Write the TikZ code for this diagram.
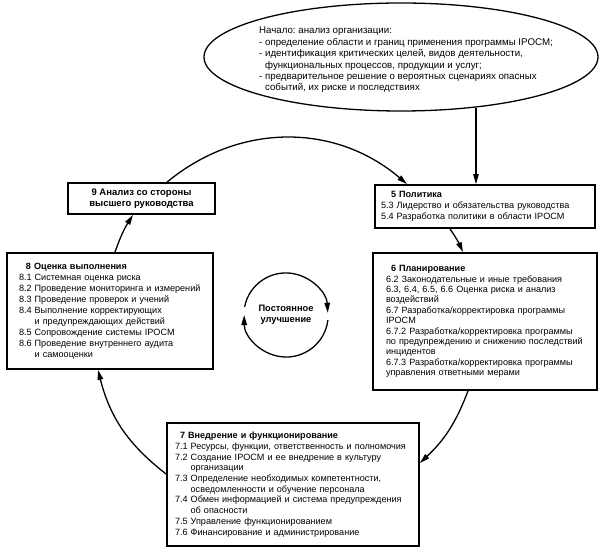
\documentclass[tikz,border=0pt]{standalone}
\usepackage{fontspec}
\setmainfont{Liberation Sans}
\usetikzlibrary{arrows.meta,shapes.geometric,calc}
\frenchspacing
\newcommand{\indnt}{\hphantom{8.8 }}
\newcommand{\txtsize}{\fontsize{9.1}{11}\selectfont}

\begin{document}
\begin{tikzpicture}[x=1pt,y=1pt,
          blk/.style={draw,line width=1.8pt,inner xsep=2pt,inner ysep=0pt,align=left,font=\txtsize,
                      execute at begin node={\leftskip=#1}},
          blk/.default=6pt,
          head/.style={draw,line width=1.8pt,inner sep=0pt,align=center,font=\fontsize{9.5}{11}\selectfont\bfseries},
          startell/.style={ellipse,draw,line width=1.3pt,minimum width=394pt,minimum height=108pt,inner sep=0pt},
          loopc/.style={circle,minimum size=84pt,inner sep=0pt,align=center,font=\fontsize{9.3}{11}\selectfont\bfseries},
          ar/.style={-{Triangle[length=10pt,width=5.5pt]},line width=1.3pt}
        ]
        \useasboundingbox (0,0) rectangle (607,554);
        % start of the cycle
        \node[startell] (start) at (401,497) {};
        \node[anchor=north west,inner sep=0pt,align=left,font=\fontsize{9.7}{11.4}\selectfont] (starttext) at (259,527)
          {Начало: анализ организации:\\
           - определение области и границ применения программы IPOCM;\\
           - идентификация критических целей, видов деятельности,\\
           \hphantom{- }функциональных процессов, продукции и услуг;\\
           - предварительное решение о вероятных сценариях опасных\\
           \hphantom{- }событий, их риске и последствиях};
        % the five stages
        \node[blk=4pt,text width=216pt,minimum height=43pt] (b5) at (485,347.5)
          {\hspace*{10pt}\textbf{5 Политика}\\
           5.3 Лидерство и обязательства руководства\\
           5.4 Разработка политики в области IPOCM};
        \node[blk=11pt,text width=220pt,minimum height=137pt,font=\fontsize{9.1}{10.4}\selectfont] (b6) at (485,232.5)
          {\hspace*{5pt}\textbf{6 Планирование}\\
           6.2 Законодательные и иные требования\\
           6.3, 6.4, 6.5, 6.6 Оценка риска и анализ\\
           воздействий\\
           6.7 Разработка/корректировка программы\\
           IPOCM\\
           6.7.2 Разработка/корректировка программы\\
           по предупреждению и снижению последствий\\
           инцидентов\\
           6.7.3 Разработка/корректировка программы\\
           управления ответными мерами};
        \node[blk=6pt,text width=248pt,minimum height=123pt,font=\fontsize{9.1}{10.7}\selectfont] (b7) at (293,69.5)
          {\hspace*{5pt}\textbf{7 Внедрение и функционирование}\\
           7.1 Ресурсы, функции, ответственность и полномочия\\
           7.2 Создание IPOCM и ее внедрение в культуру\\
           \indnt организации\\
           7.3 Определение необходимых компетентности,\\
           \indnt осведомленности и обучение персонала\\
           7.4 Обмен информацией и система предупреждения\\
           \indnt об опасности\\
           7.5 Управление функционированием\\
           7.6 Финансирование и администрирование};
        \node[blk=10pt,text width=202pt,minimum height=116pt] (b8) at (110,243)
          {\hspace*{7pt}\textbf{8 Оценка выполнения}\\
           8.1 Системная оценка риска\\
           8.2 Проведение мониторинга и измерений\\
           8.3 Проведение проверок и учений\\
           8.4 Выполнение корректирующих\\
           \indnt и предупреждающих действий\\
           8.5 Сопровождение системы IPOCM\\
           8.6 Проведение внутреннего аудита\\
           \indnt и самооценки};
        \node[head,minimum width=147pt,minimum height=31pt] (b9) at (141.5,355.5)
          {9 Анализ со стороны\\высшего руководства};
        \node[loopc] (loop) at (286,239) {Постоянное\\улучшение};
        % connectors
        \draw[ar] (start.-34) -- (start.-34 |- b5.north);
        \draw[ar] ([xshift=25.5pt]b9.north) to[bend left=40] ([xshift=-78pt]b5.north);
        \draw[ar] ([xshift=-35pt]b5.south) to[bend left=5] ([xshift=-22pt]b6.north);
        \draw[ar] ([xshift=-17pt]b6.south) to[bend left=13] ([yshift=21.5pt]b7.east);
        \draw[ar] ([yshift=10.5pt]b7.west) to[bend left=19] ([xshift=-12pt]b8.south);
        \draw[ar] ([xshift=5pt]b8.north) to[bend left=6.5] ([xshift=-8.5pt]b9.south);
        \draw[ar] (loop.169) arc[start angle=169,end angle=3,radius=42pt];
        \draw[ar] (loop.-7) arc[start angle=-7,end angle=-180,radius=42pt];
      \end{tikzpicture}
\end{document}
